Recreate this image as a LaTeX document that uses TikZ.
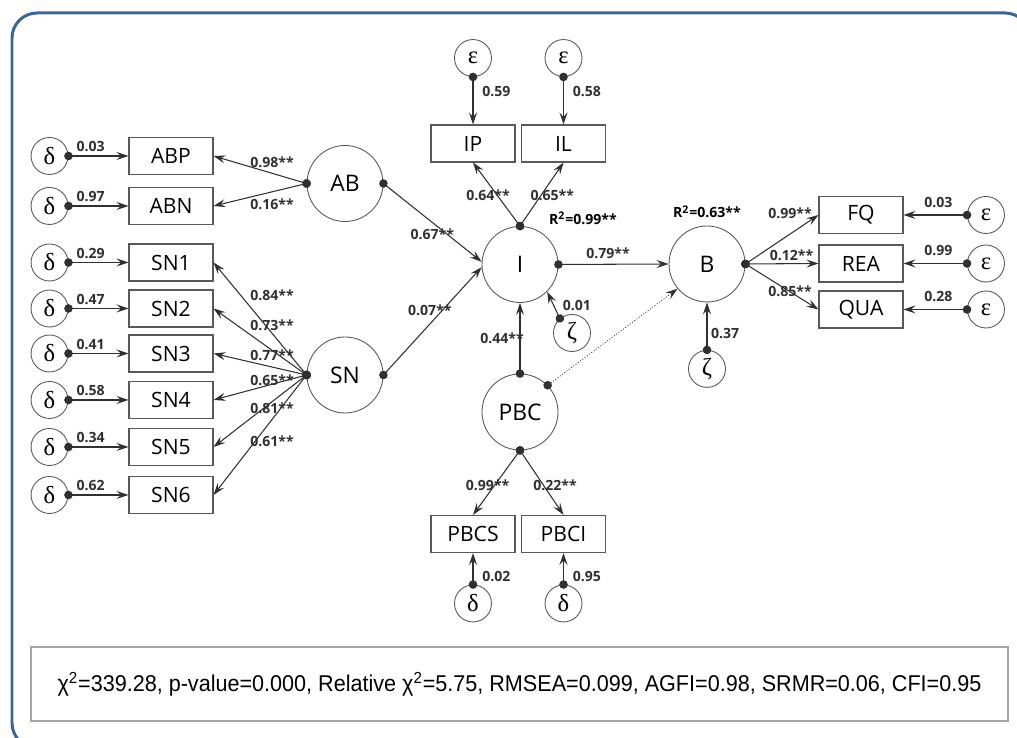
\documentclass[tikz,border=0pt]{standalone}
\usepackage{fontspec}
\setmainfont{Open Sans}
\newfontfamily\greekfont{Liberation Serif}
\newfontfamily\indexfont{Liberation Sans}
\usepackage{xcolor}
\usepackage{graphicx}
\usetikzlibrary{arrows.meta, positioning}
\definecolor{frameblue}{HTML}{3E6494}
\definecolor{fitgray}{HTML}{A6A6A6}
\definecolor{edgegray}{HTML}{303030}

\begin{document}
\begin{tikzpicture}[
  lat/.style={circle, draw=edgegray!80, line width=0.5pt, minimum size=1.52cm, inner sep=0pt, font=\fontsize{13}{15}\selectfont},
  obs/.style={draw=edgegray!80, line width=0.6pt, minimum width=1.68cm, minimum height=0.74cm, inner sep=0pt, font=\fontsize{12}{14}\selectfont},
  err/.style={circle, draw=edgegray!80, line width=0.5pt, minimum size=0.74cm, inner sep=0pt, font=\greekfont\fontsize{14}{16}\selectfont},
  lbl/.style={font=\bfseries\fontsize{8}{9.5}\selectfont, inner sep=1pt},
  con/.style={edgegray, line width=0.6pt, {Circle[length=1.7mm]}-{Stealth[length=2.4mm, width=1.6mm, inset=0.9mm]}, shorten <=-0.85mm},
  dotcon/.style={con, densely dotted, line width=0.4pt},
  fitbox/.style={draw=fitgray, line width=1.4pt, minimum width=19.54cm, minimum height=1.48cm, font=\indexfont\fontsize{13}{15}\selectfont}
]
  \useasboundingbox (0,0) rectangle (20.34,14.76);
  \begin{scope}
    \clip (0,0) rectangle (20.34,14.76);
    \draw[frameblue, line width=1.7pt, rounded corners=0.5cm] (0.24,-0.2) rectangle (20.6,14.5);
  \end{scope}

  \node[lat] (AB) at (6.90,11.09) {AB};
  \node[lat] (SN) at (6.90,7.26) {SN};
  \node[lat] (I) at (10.40,9.47) {I};
  \node[lat] (B) at (14.14,9.48) {B};
  \node[lat] (PBC) at (10.40,6.52) {PBC};

  \foreach \n/\y/\v in {ABP/11.64/0.03, ABN/10.64/0.97, SN1/9.51/0.29, SN2/8.59/0.47, SN3/7.69/0.41, SN4/6.76/0.58, SN5/5.82/0.34, SN6/4.86/0.62} {
    \node[obs] (\n) at (3.42,\y) {\n};
    \node[err, left=1.2cm of \n] (d\n) {δ};
    \draw[con] (d\n) -- node[lbl, pos=0.37, above=1pt] {\v} (\n);
  }
  \foreach \n/\x/\v in {IP/9.46/0.59, IL/11.27/0.58} {
    \node[obs] (\n) at (\x,11.89) {\n};
    \node[err, above=0.95cm of \n] (e\n) {ε};
    \draw[con] (e\n) -- node[lbl, pos=0.3, right=4pt] {\v} (\n);
  }
  \foreach \n/\y/\v in {FQ/10.46/0.03, REA/9.49/0.99, QUA/8.57/0.28} {
    \node[obs] (\n) at (17.22,\y) {\n};
    \node[err, right=1.27cm of \n] (e\n) {ε};
    \draw[con] (e\n) -- node[lbl, pos=0.45, above=3pt] {\v} (\n);
  }
  \foreach \n/\x/\v in {PBCS/9.46/0.02, PBCI/11.27/0.95} {
    \node[obs] (\n) at (\x,4.08) {\n};
    \node[err, below=0.63cm of \n] (d\n) {δ};
    \draw[con] (d\n) -- node[lbl, pos=0.25, right=4pt] {\v} (\n);
  }

  \node[err] (zI) at (11.44,8.10) {ζ};
  \node[err, below=0.95cm of B] (zB) {ζ};
  \draw[con] (zI.130) -- node[lbl, pos=0.5, right=4pt] {0.01} (I.315);
  \draw[con] (zB) -- node[lbl, pos=0.35, right=1pt] {0.37} (B);

  \foreach \n/\v/\s in {ABP/0.98/0.22, ABN/0.16/-0.25}
    \draw[con] (AB.west) -- node[lbl, pos=0.372, yshift=\s cm] {\v**} (\n.east);
  \foreach \n/\v/\s in {SN1/0.84/0.76, SN2/0.73/0.50, SN3/0.77/0.24, SN4/0.65/0.08, SN5/0.81/-0.12, SN6/0.61/-0.44}
    \draw[con] (SN.west) -- node[lbl, pos=0.372, yshift=\s cm] {\v**} (\n.east);
  \foreach \n/\v/\p/\s in {FQ/0.99/0.61/0.42, REA/0.12/0.63/0.16, QUA/0.85/0.61/0}
    \draw[con] (B.east) -- node[lbl, pos=\p, yshift=\s cm] {\v**} (\n.west);

  \draw[con] (AB.east) -- node[lbl, pos=0.65, xshift=-0.3cm] {0.67**} (I.176);
  \draw[con] (SN.east) -- node[lbl, pos=0.6, xshift=-0.25cm] {0.07**} (I.184);
  \draw[con] (I.east) -- node[lbl, pos=0.45, above=2pt] {0.79**} (B.west);
  \draw[con] (PBC.north) -- node[lbl, pos=0.5, xshift=-0.36cm] {0.44**} (I.south);
  \draw[dotcon] (PBC.44) -- (B.220);
  \draw[con] (I.north) -- node[lbl, pos=0.49, xshift=-0.18cm] {0.64**} (IP.south);
  \draw[con] (I.north) -- node[lbl, pos=0.49, xshift=0.22cm] {0.65**} (IL.south);
  \draw[con] (PBC.south) -- node[lbl, pos=0.54, xshift=-0.14cm] {0.99**} (PBCS.north);
  \draw[con] (PBC.south) -- node[lbl, pos=0.54, xshift=0.23cm] {0.22**} (PBCI.north);

  \node[lbl] (R2I) at (11.66,10.40) {R\textsuperscript{2}=0.99**};
  \node[lbl, above=3pt of B] (R2B) {R\textsuperscript{2}=0.63**};

  \node[fitbox] (fitidx) at (10.39,1.08) {\scalebox{0.945}[1]{χ\textsuperscript{2}=339.28, p-value=0.000, Relative χ\textsuperscript{2}=5.75, RMSEA=0.099, AGFI=0.98, SRMR=0.06, CFI=0.95}};
\end{tikzpicture}
\end{document}
